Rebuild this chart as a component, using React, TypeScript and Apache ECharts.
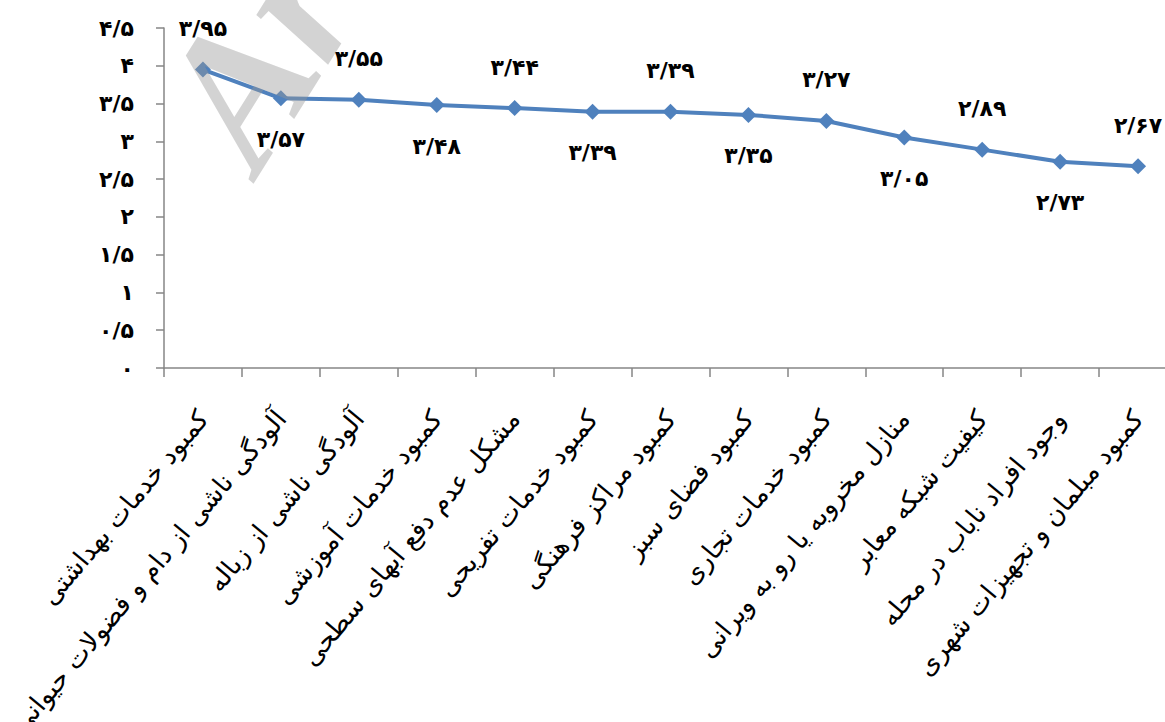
import React, { useEffect, useRef } from "react";
import * as echarts from "echarts";

const categories = [
  "کمبود خدمات بهداشتی",
  "آلودگی ناشی از دام و فضولات حیوانی",
  "آلودگی ناشی از زباله",
  "کمبود خدمات آموزشی",
  "مشکل عدم دفع آبهای سطحی",
  "کمبود خدمات تفریحی",
  "کمبود مراکز فرهنگی",
  "کمبود فضای سبز",
  "کمبود خدمات تجاری",
  "منازل مخروبه یا رو به ویرانی",
  "کیفیت شبکه معابر",
  "وجود افراد ناباب در محله",
  "کمبود مبلمان و تجهیزات شهری",
];

const values = [3.95, 3.57, 3.55, 3.48, 3.44, 3.39, 3.39, 3.35, 3.27, 3.05, 2.89, 2.73, 2.67];

const yMin = 0;
const yMax = 4.5;
const yStep = 0.5;

const PERSIAN = ["۰", "۱", "۲", "۳", "۴", "۵", "۶", "۷", "۸", "۹"];
function toFa(v: number, digits?: number): string {
  let s = digits === undefined ? String(Math.round(v * 100) / 100) : v.toFixed(digits);
  s = s.replace(".", "/");
  return s.replace(/[0-9]/g, (d) => PERSIAN[+d]);
}

const FONT = "DejaVu Sans";

export default function App() {
  const ref = useRef<HTMLDivElement>(null);
  useEffect(() => {
    if (!ref.current) return;
    const chart = echarts.init(ref.current, undefined, { renderer: "svg" });
    const data = values.map((v, i) => ({
      value: v,
      label: { position: i % 2 === 0 ? "top" : "bottom" },
    }));
    chart.setOption({
      animation: false,
      backgroundColor: "#ffffff",
      grid: {
        left: 164,
        right: -12,
        top: 28,
        bottom: 354,
        containLabel: false,
        outerBoundsMode: "none",
      },
      xAxis: {
        type: "category",
        data: categories,
        boundaryGap: true,
        axisLine: { show: true, lineStyle: { color: "#868686", width: 1.5 } },
        axisTick: { show: true, length: 9, alignWithLabel: false, lineStyle: { color: "#868686", width: 1.5 } },
        axisLabel: {
          interval: 0,
          rotate: 50,
          margin: 46,
          fontSize: 26,
          color: "#000",
          fontFamily: FONT,
          hideOverlap: false,
        },
      },
      yAxis: {
        type: "value",
        min: yMin,
        max: yMax,
        interval: yStep,
        axisLine: { show: true, lineStyle: { color: "#868686", width: 1.5 } },
        axisTick: { show: true, length: 8, lineStyle: { color: "#868686", width: 1.5 } },
        splitLine: { show: false },
        axisLabel: {
          margin: 30,
          fontSize: 22,
          fontWeight: "bold",
          color: "#000",
          fontFamily: FONT,
          formatter: (v: number) => toFa(v),
        },
      },
      series: [
        {
          type: "line",
          data,
          color: "#4F81BD",
          lineStyle: { width: 4, color: "#4F81BD" },
          symbol: "diamond",
          symbolSize: 16,
          itemStyle: { color: "#4F81BD" },
          label: {
            show: true,
            distance: 22,
            fontSize: 22,
            fontWeight: "bold",
            color: "#000",
            fontFamily: FONT,
            formatter: (p: any) => toFa(p.value, 2),
          },
        },
      ],
      graphic: [
        {
          type: "text",
          x: 285,
          y: 192,
          rotation: (58 * Math.PI) / 180,
          z: 100,
          silent: true,
          style: {
            text: "Archive of SID",
            font: "italic bold 190px 'Liberation Serif'",
            fill: "rgba(150,150,150,0.42)",
            textAlign: "left",
            textVerticalAlign: "bottom",
          },
        },
      ],
    });
    return () => chart.dispose();
  }, []);
  return (
    <div
      ref={ref}
      style={{ position: "fixed", left: 0, top: 0, width: 1165, height: 722, background: "#fff" }}
    />
  );
}
